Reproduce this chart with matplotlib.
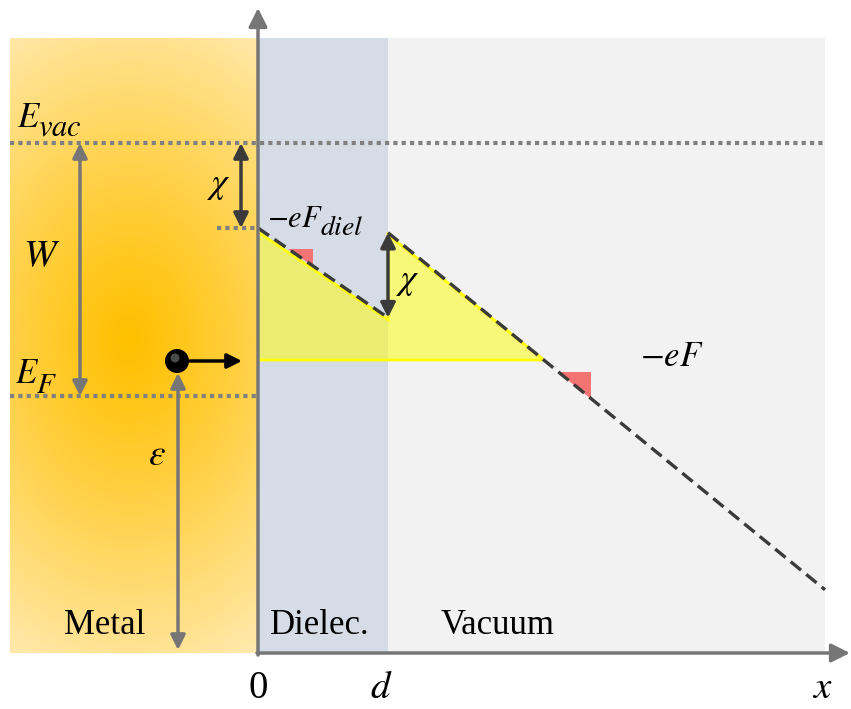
import numpy as np
import matplotlib.pyplot as plt
from matplotlib.patches import Polygon, Circle
from matplotlib.transforms import offset_copy

plt.rcParams['mathtext.fontset'] = 'stix'
plt.rcParams['font.family'] = ['Liberation Serif', 'DejaVu Serif']

# energy levels / geometry of the band diagram (arbitrary units)
E_vac = 510
E_F = 257
chi = 85
eps = 293          # electron energy
d = 130            # dielectric thickness
F_diel = 0.69      # potential slope inside the dielectric
F_vac = 0.817      # potential slope in vacuum
x_metal = -248
x_end = 567
top = 615
electron_x = -81

region_names = ['Metal', 'Dielec.', 'Vacuum']
region_x = [-153, 62, 240]
tick_labels = ['0', '$d$', '$x$']
tick_x = [0, 123, 564]
slope_marks = [(30, 55), (300, 333)]

gray = '#767676'
dark = '#3a3a3a'

fig = plt.figure(figsize=(8.51, 7.09), dpi=100)
ax = fig.add_axes([0, 0, 1, 1])
ax.set_xlim(-258, 593)
ax.set_ylim(-56, 653)
ax.axis('off')

# metal: radial orange gradient
xs = np.linspace(x_metal, 0, 200)
ys = np.linspace(0, top, 400)
X, Y = np.meshgrid(xs, ys)
r = np.sqrt(((X + 128) / 310) ** 2 + ((Y - 313) / 430) ** 2)
t = np.clip(r, 0, 1) ** 1.15
c0 = np.array([255, 192, 0]) / 255
c1 = np.array([255, 243, 215]) / 255
img = c0[None, None, :] * (1 - t[..., None]) + c1[None, None, :] * t[..., None]
ax.imshow(img, extent=(x_metal, 0, 0, top), origin='lower', aspect='auto', zorder=0)

# dielectric and vacuum
ax.fill_between([0, d], 0, top, color='#d5dce6', lw=0, zorder=0)
ax.fill_between([d, x_end], 0, top, color='#f2f2f2', lw=0, zorder=0)

# potential energy
U0 = E_vac - chi
U_d = U0 - F_diel * d
U_d2 = U_d + chi
U_end = U_d2 - F_vac * (x_end - d)
x_cross = d + (U_d2 - eps) / F_vac

def U(x):
    return U0 - F_diel * x if x <= d else U_d2 - F_vac * (x - d)

# slope triangles
for xa, xb in slope_marks:
    ya, yb = U(xa), U(xb)
    ax.add_patch(Polygon([(xa, ya), (xb, ya), (xb, yb)], closed=True,
                         facecolor='#f47474', edgecolor='none', zorder=1))

# tunnelling region
ax.add_patch(Polygon([(0, eps), (0, U0 - 4), (d, U_d - 2), (d, U_d2 - 2), (x_cross, eps)],
                     closed=True, facecolor=(1, 1, 0, 0.5), edgecolor='#ffff00',
                     lw=2, zorder=2))

ax.plot([0, d], [U0, U_d], color=dark, lw=2.4, ls=(0, (4, 2)), zorder=3)
ax.plot([d, x_end], [U_d2, U_end], color=dark, lw=2.4, ls=(0, (4, 2)), zorder=3)

# dotted levels
dot = dict(color='#808080', lw=3, ls=(0, (1, 1)), zorder=3)
ax.plot([x_metal, x_end], [E_vac, E_vac], **dot)
ax.plot([x_metal, 0], [E_F, E_F], **dot)
ax.plot([-41, 0], [U0, U0], **dot)

# axes arrows
ax.annotate('', xy=(0, 645), xytext=(0, -2),
            arrowprops=dict(arrowstyle='-|>', color=gray, lw=2.5, mutation_scale=28,
                            shrinkA=0, shrinkB=0), zorder=4)
ax.annotate('', xy=(592, 0), xytext=(-1, 0),
            arrowprops=dict(arrowstyle='-|>', color=gray, lw=2.5, mutation_scale=28,
                            shrinkA=0, shrinkB=0), zorder=4)

def double_arrow(x, y0, y1, color):
    ax.annotate('', xy=(x, y1), xytext=(x, y0),
                arrowprops=dict(arrowstyle='<|-|>', color=color, lw=2.5, mutation_scale=22,
                                shrinkA=0, shrinkB=0), zorder=5)

double_arrow(-178, E_F, E_vac, gray)
double_arrow(-17, U0, E_vac, dark)
double_arrow(d, U_d, U_d2, dark)
double_arrow(-80, 3, eps - 13, gray)

# electron
ax.add_patch(Circle((electron_x, eps - 1), 12, facecolor='black', edgecolor='none', zorder=6))
ax.add_patch(Circle((electron_x - 2, eps + 2), 4.5, facecolor='#4a4a4a', edgecolor='none', zorder=6))
ax.annotate('', xy=(-16, eps - 1), xytext=(-68, eps - 1),
            arrowprops=dict(arrowstyle='-|>', color='black', lw=2.5, mutation_scale=22,
                            shrinkA=0, shrinkB=0), zorder=6)

# labels with large subscripts (as in the original equation font)
fig.canvas.draw()
renderer = fig.canvas.get_renderer()

def sub_label(x, y, main, sub, size, subsize, drop, gap=-2):
    tx = ax.text(x, y, main, fontsize=size, va='baseline', ha='left')
    bb = tx.get_window_extent(renderer)
    x1 = ax.transData.inverted().transform((bb.x1, bb.y0))[0]
    ax.text(x1, y, sub, fontsize=subsize, va='baseline', ha='left',
            transform=offset_copy(ax.transData, fig=fig, x=gap, y=-drop, units='points'))

sub_label(-241, 526, r'$E$', r'$vac$', 25, 22, 6)
sub_label(-243, 270, r'$E$', r'$F$', 25, 21, 7)
sub_label(9, 426, r'$-eF$', r'$diel$', 22, 20, 6)

ax.text(-216, 387, r'$W$', fontsize=28, va='baseline', ha='center')
ax.text(-39, 467, r'$\chi$', fontsize=26, va='center', ha='center')
ax.text(150, 371, r'$\chi$', fontsize=26, va='center', ha='center')
ax.text(382, 287, r'$-eF$', fontsize=25, va='baseline', ha='left')
ax.text(-101, 197, r'$\varepsilon$', fontsize=27, va='center', ha='center')

for name, xc in zip(region_names, region_x):
    ax.text(xc, 19, name, fontsize=25, ha='center', va='baseline')

for lab, xc in zip(tick_labels, tick_x):
    ax.text(xc, -36, lab, fontsize=28, ha='center', va='center')

fig.savefig('out.png', dpi=100)
